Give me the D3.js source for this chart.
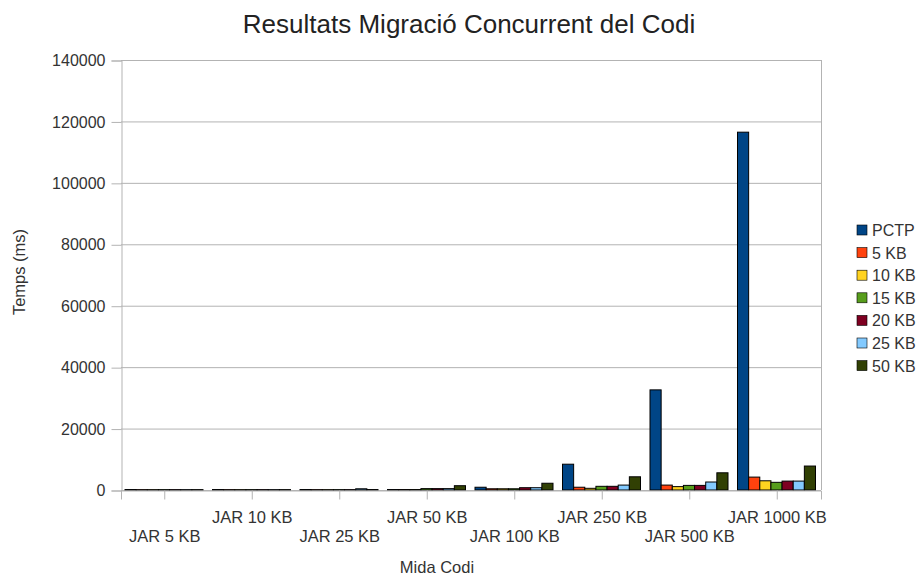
<!DOCTYPE html>
<html>
<head>
<meta charset="utf-8">
<script src="https://cdn.jsdelivr.net/npm/d3@7"></script>
<style>
    body { margin: 0; background: #fff; }
    text { font-family: "Liberation Sans", Arial, sans-serif; }
</style>
</head>
<body>
<svg id="chart" width="923" height="576"></svg>
<script>
// data
const categories = ["JAR 5 KB", "JAR 10 KB", "JAR 25 KB", "JAR 50 KB", "JAR 100 KB", "JAR 250 KB", "JAR 500 KB", "JAR 1000 KB"]
const seriesNames = ["PCTP", "5 KB", "10 KB", "15 KB", "20 KB", "25 KB", "50 KB"]
const colors = ["#004586", "#ff420e", "#ffd320", "#579d1c", "#7e0021", "#83caff", "#314004"]

const pctp = [150, 150, 150, 150, 900, 8400, 32600, 116500]
const kb5 = [120, 120, 120, 150, 400, 900, 1600, 4200]
const kb10 = [120, 120, 120, 150, 400, 550, 1100, 3000]
const kb15 = [120, 120, 120, 450, 400, 1200, 1500, 2500]
const kb20 = [120, 120, 120, 450, 750, 1200, 1500, 2900]
const kb25 = [120, 120, 400, 450, 750, 1600, 2600, 2900]
const kb50 = [120, 120, 150, 1400, 2200, 4300, 5600, 7800]
const series = [pctp, kb5, kb10, kb15, kb20, kb25, kb50]

const yTicks = [0, 20000, 40000, 60000, 80000, 100000, 120000, 140000]

const margin = {top: 60, left: 121, right: 102, bottom: 86}
const width = 923, height = 576
const font = "Liberation Sans, Arial, sans-serif"

let svg = d3.select("#chart")

let x0 = d3.scaleBand()
    .domain(categories)
    .range([margin.left, width - margin.right])
    .padding(0)

let x1 = d3.scaleBand()
    .domain(d3.range(seriesNames.length))
    .range([4, x0.bandwidth() - 5.5])
    .padding(0)

let y = d3.scaleLinear()
    .domain([0, 140000])
    .range([height - margin.bottom, margin.top])

// grid
svg.append("g")
    .selectAll("line")
    .data(yTicks)
    .join("line")
    .attr("x1", margin.left)
    .attr("x2", width - margin.right)
    .attr("y1", d => y(d) + 0.5)
    .attr("y2", d => y(d) + 0.5)
    .attr("stroke", "#b3b3b3")
    .attr("stroke-width", 1)

// right border
svg.append("line")
    .attr("x1", width - margin.right + 0.5)
    .attr("x2", width - margin.right + 0.5)
    .attr("y1", margin.top)
    .attr("y2", height - margin.bottom)
    .attr("stroke", "#b3b3b3")

// bars
let groups = svg.append("g")
    .selectAll("g")
    .data(categories)
    .join("g")
    .attr("transform", d => `translate(${x0(d)},0)`)

groups.selectAll("rect")
    .data((c, ci) => series.map((s, si) => ({si: si, v: s[ci]})))
    .join("rect")
    .attr("x", d => x1(d.si))
    .attr("width", x1.bandwidth())
    .attr("y", d => y(d.v))
    .attr("height", d => y(0) - y(d.v))
    .attr("fill", d => colors[d.si])
    .attr("stroke", "#000")
    .attr("stroke-width", 1)

// y axis
let yAxis = d3.axisLeft(y)
    .tickValues(yTicks)
    .tickSize(10)
    .tickPadding(6)
    .tickFormat(d3.format("d"))

let gy = svg.append("g")
    .attr("transform", `translate(${margin.left + 0.5},0.5)`)
    .call(yAxis)
gy.select(".domain").attr("stroke", "#b3b3b3")
gy.selectAll(".tick line").attr("stroke", "#b3b3b3")
gy.selectAll(".tick text")
    .attr("font-size", 16)
    .attr("font-family", font)
    .attr("fill", "#333")

// x axis
let xAxis = d3.axisBottom(x0)
    .tickSizeOuter(0)
    .tickSize(9)

let gx = svg.append("g")
    .attr("transform", `translate(0,${height - margin.bottom + 0.5})`)
    .call(xAxis)
gx.select(".domain").attr("stroke", "#b3b3b3")
gx.selectAll(".tick line").attr("stroke", "#b3b3b3")
gx.selectAll(".tick text")
    .attr("font-size", 16.5)
    .attr("font-family", font)
    .attr("fill", "#333")
    .attr("dy", null)
    .attr("y", (d, i) => i % 2 == 0 ? 51 : 32)

// titles
svg.append("text")
    .attr("x", 469)
    .attr("y", 33)
    .attr("text-anchor", "middle")
    .attr("font-size", 26)
    .attr("fill", "#222")
    .text("Resultats Migració Concurrent del Codi")

svg.append("text")
    .attr("x", 437)
    .attr("y", 573)
    .attr("text-anchor", "middle")
    .attr("font-size", 16.5)
    .attr("fill", "#333")
    .text("Mida Codi")

svg.append("text")
    .attr("transform", "translate(25,272) rotate(-90)")
    .attr("text-anchor", "middle")
    .attr("font-size", 16.5)
    .attr("fill", "#333")
    .text("Temps (ms)")

// legend
let legend = svg.append("g")
    .selectAll("g")
    .data(seriesNames)
    .join("g")
    .attr("transform", (d, i) => `translate(857,${225 + i * 22.6})`)

legend.append("rect")
    .attr("width", 10)
    .attr("height", 10)
    .attr("fill", (d, i) => colors[i])
    .attr("stroke", "#000")
    .attr("stroke-width", 0.6)

legend.append("text")
    .attr("x", 15)
    .attr("y", 11)
    .attr("font-size", 16)
    .attr("fill", "#333")
    .text(d => d)
</script>
</body>
</html>
